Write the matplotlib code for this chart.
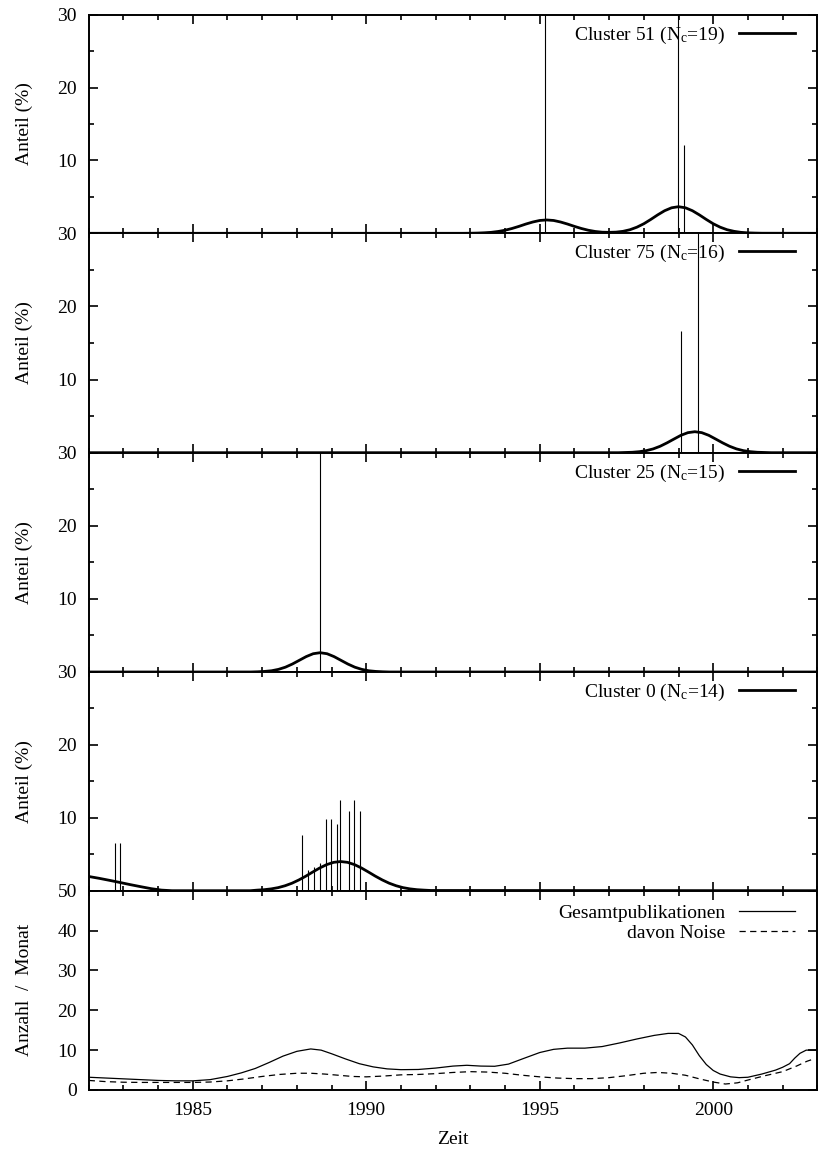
import matplotlib
matplotlib.use('Agg')
import matplotlib.pyplot as plt
from matplotlib.ticker import MultipleLocator, NullFormatter

plt.rcParams['font.family'] = ['Liberation Serif', 'DejaVu Serif']
plt.rcParams['mathtext.fontset'] = 'custom'
plt.rcParams['mathtext.rm'] = 'Liberation Serif'
plt.rcParams['mathtext.it'] = 'Liberation Serif:italic'
FS = 14

# ---- data ----
cluster_ids = [51, 75, 25, 0]
cluster_sizes = [19, 16, 15, 14]

# impulses (share per month, %); values > 30 are off-scale
c51_spike_x = [1995.16, 1998.99, 1999.15]
c51_spike_y = [40, 40, 12.1]
c75_spike_x = [1999.07, 1999.57]
c75_spike_y = [16.6, 40]
c25_spike_x = [1988.67]
c25_spike_y = [40]
c0_spike_x = [1982.75, 1982.91, 1988.16, 1988.32, 1988.49, 1988.66, 1988.83,
              1988.99, 1989.15, 1989.24, 1989.49, 1989.66, 1989.82]
c0_spike_y = [6.6, 6.6, 7.7, 2.8, 3.3, 3.8, 9.9, 9.9, 9.1, 12.4, 11.0, 12.4, 11.0]

# smoothed share curves
c51_curve_x = [1982.0, 1992.8, 1993.0, 1993.2, 1993.4, 1993.6, 1993.8, 1994.0, 1994.2,
               1994.4, 1994.6, 1994.8, 1995.0, 1995.2, 1995.4, 1995.6, 1995.8, 1996.0,
               1996.2, 1996.4, 1996.6, 1996.8, 1997.0, 1997.2, 1997.4, 1997.6, 1997.8,
               1998.0, 1998.2, 1998.4, 1998.6, 1998.8, 1999.0, 1999.2, 1999.4, 1999.6,
               1999.8, 2000.0, 2000.2, 2000.4, 2000.6, 2000.8, 2001.0, 2001.2, 2001.4,
               2003.0]
c51_curve_y = [0, 0, 0.01, 0.03, 0.07, 0.13, 0.25, 0.42, 0.66,
               0.95, 1.27, 1.55, 1.76, 1.83, 1.76, 1.55, 1.27, 0.95,
               0.66, 0.42, 0.25, 0.15, 0.13, 0.16, 0.27, 0.49, 0.84,
               1.31, 1.90, 2.53, 3.10, 3.50, 3.65, 3.50, 3.10, 2.53,
               1.90, 1.31, 0.84, 0.49, 0.27, 0.13, 0.06, 0.03, 0.01,
               0]
c75_curve_x = [1982.0, 1997.27, 1997.47, 1997.67, 1997.87, 1998.07, 1998.27, 1998.47,
               1998.67, 1998.87, 1999.07, 1999.27, 1999.47, 1999.67, 1999.87, 2000.07,
               2000.27, 2000.47, 2000.67, 2000.87, 2001.07, 2001.27, 2001.47, 2001.67,
               2003.0]
c75_curve_y = [0, 0, 0.03, 0.06, 0.14, 0.28, 0.52, 0.88,
               1.35, 1.87, 2.38, 2.74, 2.87, 2.74, 2.38, 1.87,
               1.35, 0.88, 0.52, 0.28, 0.14, 0.06, 0.03, 0,
               0]
c25_curve_x = [1982.0, 1986.67, 1986.87, 1987.07, 1987.27, 1987.47, 1987.67, 1987.87,
               1988.07, 1988.27, 1988.47, 1988.67, 1988.87, 1989.07, 1989.27, 1989.47,
               1989.67, 1989.87, 1990.07, 1990.27, 1990.47, 1990.67, 2003.0]
c25_curve_y = [0, 0, 0.03, 0.08, 0.17, 0.36, 0.66, 1.09,
               1.60, 2.11, 2.50, 2.64, 2.50, 2.11, 1.60, 1.09,
               0.66, 0.36, 0.17, 0.08, 0.03, 0, 0]
c0_curve_x = [1982.0, 1982.3, 1982.6, 1982.9, 1983.2, 1983.5, 1983.8, 1984.1, 1984.4,
              1986.66, 1986.86, 1987.06, 1987.26, 1987.46, 1987.66, 1987.86, 1988.06,
              1988.26, 1988.46, 1988.66, 1988.86, 1989.06, 1989.26, 1989.46, 1989.66,
              1989.86, 1990.06, 1990.26, 1990.46, 1990.66, 1990.86, 1991.06, 1991.26,
              1991.46, 1991.66, 1991.86, 2003.0]
c0_curve_y = [1.95, 1.7, 1.42, 1.13, 0.83, 0.55, 0.28, 0.08, 0,
              0, 0.08, 0.14, 0.25, 0.42, 0.68, 1.03, 1.48,
              2.0, 2.57, 3.12, 3.58, 3.89, 4.0, 3.89, 3.58,
              3.12, 2.57, 2.0, 1.48, 1.03, 0.68, 0.42, 0.25,
              0.14, 0.08, 0.03, 0]

spike_xs = [c51_spike_x, c75_spike_x, c25_spike_x, c0_spike_x]
spike_ys = [c51_spike_y, c75_spike_y, c25_spike_y, c0_spike_y]
curve_xs = [c51_curve_x, c75_curve_x, c25_curve_x, c0_curve_x]
curve_ys = [c51_curve_y, c75_curve_y, c25_curve_y, c0_curve_y]

# publications per month
total_x = [1982.0, 1982.5, 1983.0, 1983.5, 1984.0, 1984.5, 1985.0, 1985.5, 1986.0,
           1986.4, 1986.8, 1987.2, 1987.6, 1988.0, 1988.4, 1988.7, 1989.0, 1989.4,
           1989.8, 1990.2, 1990.6, 1991.0, 1991.5, 1992.0, 1992.5, 1992.9, 1993.3,
           1993.7, 1994.1, 1994.5, 1995.0, 1995.4, 1995.8, 1996.3, 1996.8, 1997.3,
           1997.8, 1998.3, 1998.7, 1999.0, 1999.2, 1999.4, 1999.6, 1999.8, 2000.0,
           2000.2, 2000.5, 2000.75, 2001.0, 2001.4, 2001.8, 2002.0, 2002.2, 2002.35,
           2002.5, 2002.68, 2003.0]
total_y = [3.2, 3.0, 2.8, 2.6, 2.4, 2.3, 2.3, 2.6, 3.4,
           4.3, 5.4, 6.9, 8.5, 9.7, 10.3, 10.0, 9.1, 7.8,
           6.6, 5.8, 5.3, 5.1, 5.15, 5.5, 6.0, 6.2, 6.0,
           5.95, 6.5, 7.8, 9.4, 10.2, 10.5, 10.5, 10.9, 11.8,
           12.8, 13.7, 14.2, 14.2, 13.3, 11.3, 8.6, 6.4, 4.9,
           4.0, 3.3, 3.1, 3.2, 4.0, 5.0, 5.7, 6.6, 8.0,
           9.2, 10.0, 10.0]
noise_x = [1982.0, 1982.5, 1983.0, 1983.5, 1984.0, 1984.5, 1985.0, 1985.5, 1986.0,
           1986.5, 1987.0, 1987.5, 1988.0, 1988.4, 1988.8, 1989.2, 1989.6, 1990.0,
           1990.5, 1991.0, 1991.5, 1992.0, 1992.5, 1993.0, 1993.5, 1994.0, 1994.5,
           1995.0, 1995.5, 1996.0, 1996.5, 1997.0, 1997.5, 1998.0, 1998.4, 1998.8,
           1999.2, 1999.6, 2000.0, 2000.35, 2000.7, 2001.0, 2001.5, 2002.0, 2002.4,
           2002.7, 2002.9]
noise_y = [2.4, 2.1, 1.95, 1.9, 1.9, 1.9, 1.9, 2.0, 2.3,
           2.8, 3.4, 3.9, 4.2, 4.2, 4.0, 3.7, 3.4, 3.3,
           3.5, 3.8, 3.9, 4.1, 4.4, 4.6, 4.5, 4.2, 3.7,
           3.3, 3.0, 2.85, 2.85, 3.1, 3.6, 4.2, 4.4, 4.2,
           3.7, 2.8, 2.0, 1.5, 1.8, 2.5, 3.6, 4.6, 6.0,
           7.2, 7.8]

# ---- layout (pixel geometry of the reference) ----
W, H = 819, 1158
left, right = 88.7, 817.3
edges = [14.7, 233.3, 452.7, 672.0, 890.7, 1090.0]

fig = plt.figure(figsize=(W / 100, H / 100), dpi=100)


def make_ax(i):
    top, bot = edges[i], edges[i + 1]
    ax = fig.add_axes([left / W, 1 - bot / H, (right - left) / W, (bot - top) / H])
    ax.set_xlim(1982, 2003)
    ax.xaxis.set_major_locator(MultipleLocator(5))
    ax.xaxis.set_minor_locator(MultipleLocator(1))
    ax.tick_params(which='both', direction='in', top=True, right=True, width=1.2,
                   pad=8.5, labelsize=FS)
    ax.tick_params(which='major', length=6.5)
    ax.tick_params(which='minor', length=3.4)
    for s in ax.spines.values():
        s.set_linewidth(1.4)
    return ax


for i in range(4):
    ax = make_ax(i)
    ax.vlines(spike_xs[i], 0, spike_ys[i], colors='black', linewidth=0.8)
    ax.plot(curve_xs[i], curve_ys[i], color='black', linewidth=2.0,
            label=r'Cluster %d (N$_{\rm c}$=%d)' % (cluster_ids[i], cluster_sizes[i]))
    ax.set_ylim(0, 30)
    ax.set_yticks([10, 20, 30])
    ax.yaxis.set_minor_locator(MultipleLocator(5))
    ax.xaxis.set_major_formatter(NullFormatter())
    ax.set_ylabel('Anteil (%)', fontsize=FS)
    ax.yaxis.set_label_coords(-0.0765, 0.5)
    ax.legend(loc='upper right', bbox_to_anchor=(0.983, 1.0), frameon=False,
              markerfirst=False, handlelength=2.9, handletextpad=0.7,
              borderaxespad=0.3, borderpad=0.2, fontsize=FS)

ax = make_ax(4)
ax.plot(total_x, total_y, color='black', linewidth=0.9, label='Gesamtpublikationen')
ax.plot(noise_x, noise_y, color='black', linewidth=0.9, linestyle=(0, (5, 3.5)),
        label='davon Noise')
ax.set_ylim(0, 50)
ax.set_yticks([0, 10, 20, 30, 40, 50])
ax.set_ylabel('Anzahl  /  Monat', fontsize=FS)
ax.yaxis.set_label_coords(-0.0765, 0.5)
ax.set_xlabel('Zeit', fontsize=FS, labelpad=9)
ax.legend(loc='upper right', bbox_to_anchor=(0.983, 0.98), frameon=False,
          markerfirst=False, handlelength=2.9, handletextpad=0.7,
          borderaxespad=0.3, borderpad=0.2, labelspacing=0.12, fontsize=FS)

fig.savefig('out.png', dpi=100)
